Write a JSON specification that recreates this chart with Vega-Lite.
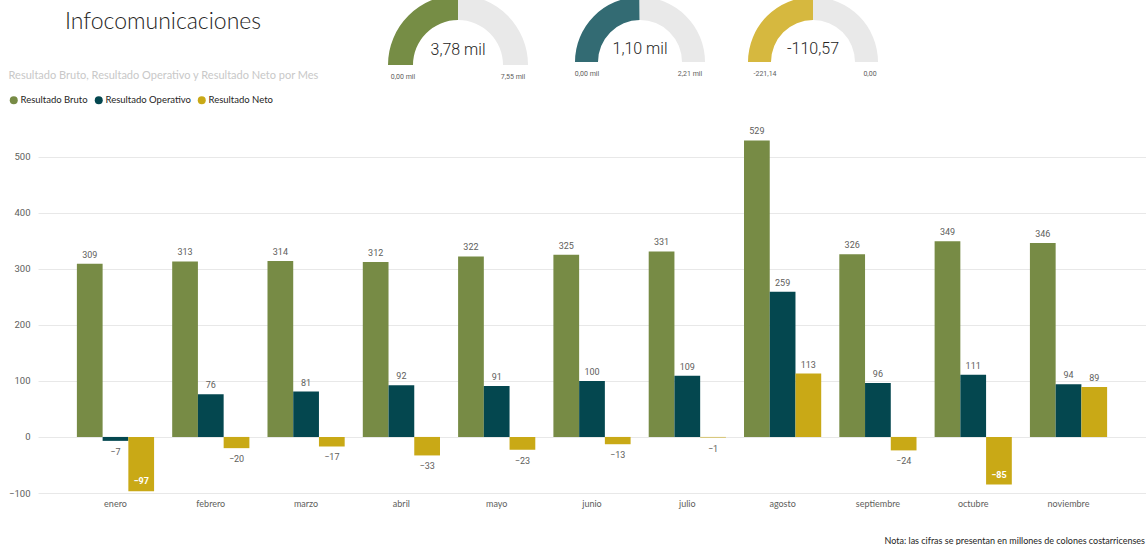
{
  "$schema": "https://vega.github.io/schema/vega-lite/v6.json",
  "padding": {"left": 8, "top": 0, "right": 0, "bottom": 0},
  "background": "white",
  "bounds": "flush",
  "spacing": 0,
  "config": {"view": {"stroke": null}, "font": "Lato"},
  "vconcat": [
    {
      "width": 1108,
      "height": 123,
      "resolve": {"scale": {"theta": "independent", "color": "independent"}},
      "layer": [
        {
          "data": {"values": [{"texto": "Infocomunicaciones"}]},
          "mark": {"type": "text", "align": "left", "baseline": "middle", "fontSize": 23, "fontWeight": 300, "font": "Lato", "color": "#252423"},
          "encoding": {
            "x": {"datum": 27, "type": "quantitative", "scale": {"domain": [0, 1108], "nice": false, "zero": false}, "axis": null},
            "y": {"datum": 22, "type": "quantitative", "scale": {"domain": [0, 123], "nice": false, "zero": false, "reverse": true}, "axis": null},
            "text": {"field": "texto"}
          }
        },
        {
          "data": {"values": [{"parte": "valor", "v": 3.78}, {"parte": "resto", "v": 3.77}]},
          "mark": {"type": "arc", "radius": 70, "radius2": 45, "clip": true},
          "encoding": {
            "x": {"datum": 420, "type": "quantitative"},
            "y": {"datum": 65, "type": "quantitative"},
            "theta": {"field": "v", "type": "quantitative", "stack": true, "scale": {"range": [-1.5708, 1.5708]}},
            "order": {"field": "parte", "sort": "descending"},
            "color": {"field": "parte", "type": "nominal", "scale": {"domain": ["valor", "resto"], "range": ["#768d45", "#e9e9e9"]}, "legend": null}
          }
        },
        {
          "data": {"values": [{"parte": "valor", "v": 1.10}, {"parte": "resto", "v": 1.11}]},
          "mark": {"type": "arc", "radius": 65, "radius2": 42, "clip": true},
          "encoding": {
            "x": {"datum": 602, "type": "quantitative"},
            "y": {"datum": 62, "type": "quantitative"},
            "theta": {"field": "v", "type": "quantitative", "stack": true, "scale": {"range": [-1.5708, 1.5708]}},
            "order": {"field": "parte", "sort": "descending"},
            "color": {"field": "parte", "type": "nominal", "scale": {"domain": ["valor", "resto"], "range": ["#336b73", "#e9e9e9"]}, "legend": null}
          }
        },
        {
          "data": {"values": [{"parte": "valor", "v": 110.57}, {"parte": "resto", "v": 110.57}]},
          "mark": {"type": "arc", "radius": 65, "radius2": 42, "clip": true},
          "encoding": {
            "x": {"datum": 775, "type": "quantitative"},
            "y": {"datum": 62, "type": "quantitative"},
            "theta": {"field": "v", "type": "quantitative", "stack": true, "scale": {"range": [-1.5708, 1.5708]}},
            "order": {"field": "parte", "sort": "descending"},
            "color": {"field": "parte", "type": "nominal", "scale": {"domain": ["valor", "resto"], "range": ["#d6b83f", "#e9e9e9"]}, "legend": null}
          }
        },
        {
          "data": {"values": [{"texto": "3,78 mil"}]},
          "mark": {"type": "text", "align": "center", "baseline": "middle", "fontSize": 16, "font": "Roboto", "fontWeight": 300, "color": "#252423"},
          "encoding": {"x": {"datum": 420, "type": "quantitative"}, "y": {"datum": 50, "type": "quantitative"}, "text": {"field": "texto"}}
        },
        {
          "data": {"values": [{"texto": "1,10 mil"}]},
          "mark": {"type": "text", "align": "center", "baseline": "middle", "fontSize": 16, "font": "Roboto", "fontWeight": 300, "color": "#252423"},
          "encoding": {"x": {"datum": 602, "type": "quantitative"}, "y": {"datum": 49, "type": "quantitative"}, "text": {"field": "texto"}}
        },
        {
          "data": {"values": [{"texto": "-110,57"}]},
          "mark": {"type": "text", "align": "center", "baseline": "middle", "fontSize": 16, "font": "Roboto", "fontWeight": 300, "color": "#252423"},
          "encoding": {"x": {"datum": 775, "type": "quantitative"}, "y": {"datum": 49, "type": "quantitative"}, "text": {"field": "texto"}}
        },
        {
          "data": {"values": [{"texto": "0,00 mil"}]},
          "mark": {"type": "text", "align": "center", "baseline": "middle", "fontSize": 7, "font": "Roboto", "color": "#605e5c"},
          "encoding": {"x": {"datum": 365, "type": "quantitative"}, "y": {"datum": 77, "type": "quantitative"}, "text": {"field": "texto"}}
        },
        {
          "data": {"values": [{"texto": "7,55 mil"}]},
          "mark": {"type": "text", "align": "center", "baseline": "middle", "fontSize": 7, "font": "Roboto", "color": "#605e5c"},
          "encoding": {"x": {"datum": 475, "type": "quantitative"}, "y": {"datum": 77, "type": "quantitative"}, "text": {"field": "texto"}}
        },
        {
          "data": {"values": [{"texto": "0,00 mil"}]},
          "mark": {"type": "text", "align": "center", "baseline": "middle", "fontSize": 7, "font": "Roboto", "color": "#605e5c"},
          "encoding": {"x": {"datum": 549, "type": "quantitative"}, "y": {"datum": 74, "type": "quantitative"}, "text": {"field": "texto"}}
        },
        {
          "data": {"values": [{"texto": "2,21 mil"}]},
          "mark": {"type": "text", "align": "center", "baseline": "middle", "fontSize": 7, "font": "Roboto", "color": "#605e5c"},
          "encoding": {"x": {"datum": 652, "type": "quantitative"}, "y": {"datum": 74, "type": "quantitative"}, "text": {"field": "texto"}}
        },
        {
          "data": {"values": [{"texto": "-221,14"}]},
          "mark": {"type": "text", "align": "center", "baseline": "middle", "fontSize": 7, "font": "Roboto", "color": "#605e5c"},
          "encoding": {"x": {"datum": 727, "type": "quantitative"}, "y": {"datum": 74, "type": "quantitative"}, "text": {"field": "texto"}}
        },
        {
          "data": {"values": [{"texto": "0,00"}]},
          "mark": {"type": "text", "align": "center", "baseline": "middle", "fontSize": 7, "font": "Roboto", "color": "#605e5c"},
          "encoding": {"x": {"datum": 832, "type": "quantitative"}, "y": {"datum": 74, "type": "quantitative"}, "text": {"field": "texto"}}
        }
      ]
    },
    {
      "width": 1108,
      "height": 370,
      "title": {"text": "Resultado Bruto, Resultado Operativo y Resultado Neto por Mes", "anchor": "start", "frame": "bounds", "fontSize": 11, "fontWeight": "normal", "font": "Lato", "color": "#c8c8c8", "offset": 42},
      "data": {"values": [
        {"mes": "enero", "serie": "Resultado Bruto", "valor": 309},
        {"mes": "enero", "serie": "Resultado Operativo", "valor": -7},
        {"mes": "enero", "serie": "Resultado Neto", "valor": -97},
        {"mes": "febrero", "serie": "Resultado Bruto", "valor": 313},
        {"mes": "febrero", "serie": "Resultado Operativo", "valor": 76},
        {"mes": "febrero", "serie": "Resultado Neto", "valor": -20},
        {"mes": "marzo", "serie": "Resultado Bruto", "valor": 314},
        {"mes": "marzo", "serie": "Resultado Operativo", "valor": 81},
        {"mes": "marzo", "serie": "Resultado Neto", "valor": -17},
        {"mes": "abril", "serie": "Resultado Bruto", "valor": 312},
        {"mes": "abril", "serie": "Resultado Operativo", "valor": 92},
        {"mes": "abril", "serie": "Resultado Neto", "valor": -33},
        {"mes": "mayo", "serie": "Resultado Bruto", "valor": 322},
        {"mes": "mayo", "serie": "Resultado Operativo", "valor": 91},
        {"mes": "mayo", "serie": "Resultado Neto", "valor": -23},
        {"mes": "junio", "serie": "Resultado Bruto", "valor": 325},
        {"mes": "junio", "serie": "Resultado Operativo", "valor": 100},
        {"mes": "junio", "serie": "Resultado Neto", "valor": -13},
        {"mes": "julio", "serie": "Resultado Bruto", "valor": 331},
        {"mes": "julio", "serie": "Resultado Operativo", "valor": 109},
        {"mes": "julio", "serie": "Resultado Neto", "valor": -1},
        {"mes": "agosto", "serie": "Resultado Bruto", "valor": 529},
        {"mes": "agosto", "serie": "Resultado Operativo", "valor": 259},
        {"mes": "agosto", "serie": "Resultado Neto", "valor": 113},
        {"mes": "septiembre", "serie": "Resultado Bruto", "valor": 326},
        {"mes": "septiembre", "serie": "Resultado Operativo", "valor": 96},
        {"mes": "septiembre", "serie": "Resultado Neto", "valor": -24},
        {"mes": "octubre", "serie": "Resultado Bruto", "valor": 349},
        {"mes": "octubre", "serie": "Resultado Operativo", "valor": 111},
        {"mes": "octubre", "serie": "Resultado Neto", "valor": -85},
        {"mes": "noviembre", "serie": "Resultado Bruto", "valor": 346},
        {"mes": "noviembre", "serie": "Resultado Operativo", "valor": 94},
        {"mes": "noviembre", "serie": "Resultado Neto", "valor": 89}
      ]},
      "encoding": {
        "x": {
          "field": "mes", "type": "nominal",
          "sort": ["enero", "febrero", "marzo", "abril", "mayo", "junio", "julio", "agosto", "septiembre", "octubre", "noviembre"],
          "scale": {"paddingInner": 0.19, "paddingOuter": 0.408},
          "axis": {
            "title": "Nota: las cifras se presentan en millones de colones costarricenses",
            "titleX": 846, "titleY": 47, "titleAlign": "left", "titleBaseline": "middle", "titleAnchor": "start",
            "titleFontSize": 9, "titleFontWeight": "normal", "titleFont": "Lato", "titleColor": "#252423",
            "labelAngle": 0, "labelFontSize": 9, "labelFont": "Lato", "labelColor": "#605e5c", "labelPadding": 6,
            "domain": false, "ticks": false, "grid": false
          }
        },
        "xOffset": {"field": "serie", "type": "nominal", "sort": ["Resultado Bruto", "Resultado Operativo", "Resultado Neto"], "scale": {"paddingInner": 0, "paddingOuter": 0}},
        "y": {
          "field": "valor", "type": "quantitative",
          "scale": {"domain": [-100, 560], "nice": false},
          "axis": {"title": null, "values": [-100, 0, 100, 200, 300, 400, 500], "domain": false, "ticks": false, "labelFontSize": 9.5, "labelFont": "Roboto", "labelColor": "#605e5c", "labelPadding": 8, "gridColor": "#e8e8e8", "gridWidth": 1}
        }
      },
      "layer": [
        {
          "mark": {"type": "bar"},
          "encoding": {
            "color": {
              "field": "serie", "type": "nominal",
              "scale": {"domain": ["Resultado Bruto", "Resultado Operativo", "Resultado Neto"], "range": ["#778b45", "#04474f", "#c9a916"]},
              "legend": {"orient": "none", "legendX": -29, "legendY": 95, "direction": "horizontal", "title": null, "symbolType": "circle", "symbolSize": 64, "symbolStrokeWidth": 0, "labelFontSize": 9.5, "labelFont": "Lato", "labelColor": "#252423", "columnPadding": 6, "labelOffset": 2, "padding": 0}
            }
          }
        },
        {
          "transform": [{"filter": "datum.valor >= 0"}],
          "mark": {"type": "text", "baseline": "bottom", "dy": -4, "fontSize": 9, "font": "Roboto", "color": "#605e5c"},
          "encoding": {"text": {"field": "valor", "type": "quantitative"}}
        },
        {
          "transform": [{"filter": "datum.valor < 0 && datum.valor > -50"}],
          "mark": {"type": "text", "baseline": "top", "dy": 7, "fontSize": 9, "font": "Roboto", "color": "#605e5c"},
          "encoding": {"text": {"field": "valor", "type": "quantitative"}}
        },
        {
          "transform": [{"filter": "datum.valor <= -50"}],
          "mark": {"type": "text", "baseline": "bottom", "dy": -5, "fontSize": 9, "font": "Roboto", "fontWeight": "bold", "color": "white"},
          "encoding": {"text": {"field": "valor", "type": "quantitative"}}
        }
      ]
    }
  ]
}
